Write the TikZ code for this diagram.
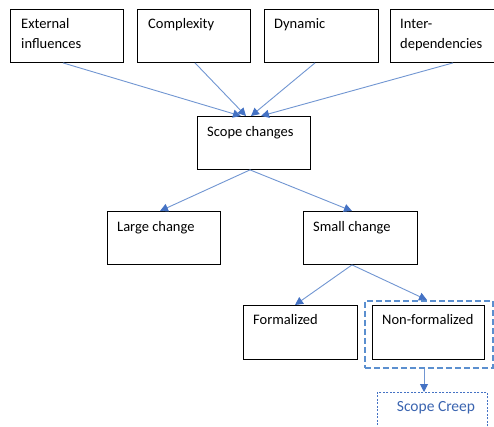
\documentclass[tikz,border=0pt]{standalone}
\usepackage{fontspec}
\setmainfont{Carlito}
\usetikzlibrary{arrows.meta,calc}
\definecolor{arrowblue}{HTML}{4472C4}
\definecolor{lineblue}{HTML}{7196D2}
\definecolor{frameblue}{HTML}{5B8FCF}
\definecolor{creepblue}{HTML}{3A64B0}

\begin{document}
\begin{tikzpicture}[x=1pt,y=-1pt,
  box/.style={draw=black, line width=0.9pt, anchor=north west, inner sep=0pt},
  txt/.style={anchor=base west, inner sep=0pt, align=left,
    font=\fontsize{14.5}{20}\selectfont},
  flow/.style={draw=lineblue, line width=0.9pt,
    -{Triangle[length=8pt,width=8pt,fill=arrowblue,color=arrowblue]}},
  frame/.style={draw=frameblue, line width=1.8pt, dash pattern=on 6pt off 3pt,
    anchor=north west, inner sep=0pt},
  creep/.style={draw=arrowblue, line width=0.7pt, dash pattern=on 2pt off 1.5pt,
    anchor=north west, inner sep=0pt}]

  % page area
  \path[fill=white] (0,0) rectangle (494,426);
  \useasboundingbox (0,0) rectangle (494,426);

  % driver boxes
  \node[box, minimum width=113pt, minimum height=53pt] (ext) at (10,9) {};
  \node[box, minimum width=113pt, minimum height=53pt] (cpx) at (137,9) {};
  \node[box, minimum width=114pt, minimum height=53pt] (dyn) at (264,9) {};
  \node[box, minimum width=103.5pt, minimum height=53pt] (int) at (390,9) {};

  % outcome boxes
  \node[box, minimum width=113pt, minimum height=53pt] (scope) at (197,116) {};
  \node[box, minimum width=113pt, minimum height=53pt] (large) at (107,211) {};
  \node[box, minimum width=114pt, minimum height=53pt] (small) at (303,211) {};
  \node[box, minimum width=114pt, minimum height=54pt] (form) at (243,305) {};
  \node[box, minimum width=112pt, minimum height=54pt] (nonf) at (372,305) {};
  \node[frame, minimum width=128pt, minimum height=67pt] (group) at (364,300) {};
  \node[creep, minimum width=110pt, minimum height=50pt] (sc) at (377,392) {};

  % labels (two-line labels are placed by the baseline of their last line)
  \node[txt] (ext-t) at ([shift={(11,39)}]ext.north west) {External\\influences};
  \node[txt] (cpx-t) at ([shift={(11,19)}]cpx.north west) {Complexity};
  \node[txt] (dyn-t) at ([shift={(10,19)}]dyn.north west) {Dynamic};
  \node[txt] (int-t) at ([shift={(10,39)}]int.north west) {Inter-\\dependencies};
  \node[txt] (scope-t) at ([shift={(10,20)}]scope.north west) {Scope changes};
  \node[txt] (large-t) at ([shift={(10,20)}]large.north west) {Large change};
  \node[txt] (small-t) at ([shift={(10,20)}]small.north west) {Small change};
  \node[txt] (form-t) at ([shift={(10,19)}]form.north west) {Formalized};
  \node[txt] (nonf-t) at ([shift={(10,19)}]nonf.north west) {Non-formalized};
  \node[txt, anchor=base, text=creepblue, font=\fontsize{15.5}{20}\selectfont]
    (sc-t) at ([shift={(59,19)}]sc.north west) {Scope Creep};

  % connectors
  \draw[flow] ([xshift=53pt]ext.south west) -- ([xshift=44pt]scope.north west);
  \draw[flow] ([xshift=58pt]cpx.south west) -- ([xshift=49pt]scope.north west);
  \draw[flow] ([xshift=51pt]dyn.south west) -- ([xshift=54pt]scope.north west);
  \draw[flow] ([xshift=63pt]int.south west) -- ([xshift=64pt]scope.north west);
  \draw[flow] ([xshift=53pt]scope.south west) -- ([xshift=53pt]large.north west);
  \draw[flow] ([xshift=53pt]scope.south west) -- ([xshift=49pt]small.north west);
  \draw[flow] ([xshift=49pt]small.south west) -- ([xshift=52pt]form.north west);
  \draw[flow] ([xshift=49pt]small.south west) -- ([xshift=63pt]group.north west);
  \draw[flow] ([xshift=60pt]group.south west) -- ([xshift=47pt]sc.north west);
\end{tikzpicture}
\end{document}
